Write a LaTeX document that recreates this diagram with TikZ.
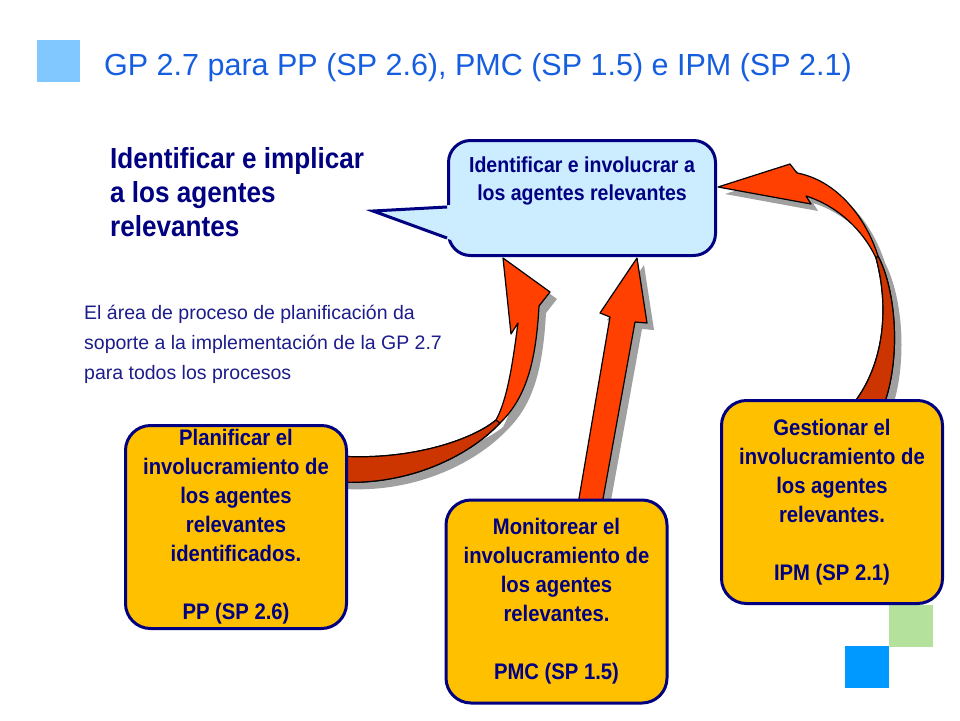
\documentclass[tikz,border=0pt]{standalone}
\usepackage{fontspec}
\setmainfont{Liberation Sans}
\newfontfamily\narrowfont[FakeStretch=0.9]{Liberation Sans}
\usetikzlibrary{positioning,shadows}
\definecolor{titleblue}{RGB}{22,94,224}
\definecolor{navy}{RGB}{0,0,128}
\definecolor{textnavy}{RGB}{28,28,140}
\definecolor{boxorange}{RGB}{255,192,0}
\definecolor{bubbleblue}{RGB}{204,236,255}
\definecolor{arrowred}{RGB}{255,64,0}
\definecolor{arrowdark}{RGB}{204,52,0}
\definecolor{shadowgray}{RGB}{160,160,160}
\definecolor{squareblue}{RGB}{128,200,255}
\definecolor{squaregreen}{RGB}{180,226,156}
\definecolor{squaredeep}{RGB}{0,153,255}
\tikzstyle{orangebox} = [draw=navy, fill=boxorange, line width=3pt, rounded corners=25pt,
    minimum width=221pt, minimum height=203pt, align=center, text=navy,
    font=\narrowfont\bfseries\fontsize{22.5}{29}\selectfont]
\tikzstyle{bigarrow} = [draw=black, fill=arrowred, line width=1.2pt, line join=round,
    drop shadow={shadow xshift=7pt, shadow yshift=-7pt, opacity=1, fill=shadowgray}]
\tikzstyle{underside} = [draw=black, fill=arrowdark, line width=1.2pt, line join=round]
\tikzstyle{calltext} = [inner sep=0pt, align=center, text=navy,
    font=\narrowfont\bfseries\fontsize{21.7}{28}\selectfont]

\begin{document}
\begin{tikzpicture}[x=1pt, y=-1pt]
    \fill[white] (0,0) rectangle (960,720);
    \useasboundingbox (0,0) rectangle (960,720);

    \fill[squareblue] (37,40) rectangle (80,82);
    \fill[squaregreen] (889,605) rectangle (933,647);
    \fill[squaredeep] (845,646) rectangle (889,688);

    \node[anchor=base west, inner sep=0pt, text=titleblue, font=\fontsize{30.5}{36}\selectfont]
        (title) at (104,75) {GP 2.7 para PP (SP 2.6), PMC (SP 1.5) e IPM (SP 2.1)};
    \node[anchor=north west, inner sep=0pt, align=left, text=navy,
        font=\narrowfont\bfseries\fontsize{29}{34}\selectfont]
        (lead) at (110,147) {Identificar e implicar\\ a los agentes\\ relevantes};
    \node[anchor=north west, inner sep=0pt, align=left, text=textnavy,
        font=\fontsize{19.5}{30}\selectfont]
        (note) at (84,305) {El área de proceso de planificación da\\
            soporte a la implementación de la GP 2.7\\ para todos los procesos};

    % arrows
    \coordinate (pptip) at (503,258);
    \coordinate (pmctip) at (637,258);
    \coordinate (ipmtip) at (718,187);
    \filldraw[bigarrow] (pptip) -- (550,292) -- (539,306)
        .. controls (536,360) and (527,397) .. (500,423)
        .. controls (470,455) and (410,486) .. (338,482)
        -- (338,456)
        .. controls (410,461) and (472,440) .. (496,420)
        .. controls (508,398) and (513,360) .. (518,323)
        -- (511,334) -- cycle;
    \filldraw[underside] (500,423)
        .. controls (470,455) and (410,486) .. (338,482)
        -- (338,456)
        .. controls (410,461) and (472,440) .. (496,420) -- cycle;
    \filldraw[bigarrow] (pmctip) -- (647,323) -- (635,322) -- (601,510)
        -- (577,510) -- (610,317) -- (600,313) -- cycle;
    \filldraw[bigarrow] (ipmtip) -- (790,164) -- (797,173)
        .. controls (835,180) and (865,215) .. (878,256)
        .. controls (896,290) and (902,360) .. (882,410)
        -- (848,410)
        .. controls (884,370) and (890,310) .. (876,258)
        .. controls (862,228) and (835,205) .. (806,196)
        -- (811,204) -- cycle;
    \filldraw[underside] (878,256)
        .. controls (896,290) and (902,360) .. (882,410)
        -- (848,410)
        .. controls (884,370) and (890,310) .. (876,258) -- cycle;

    % speech bubble
    \node[draw=navy, fill=bubbleblue, line width=3pt, rounded corners=22pt,
        minimum width=267pt, minimum height=115pt] (bubble) at (582,198) {};
    \coordinate (calltip) at (373,211);
    \fill[bubbleblue] ([xshift=4pt,yshift=-7pt]bubble.west) -- (calltip)
        -- ([xshift=4pt,yshift=-42pt]bubble.west) -- cycle;
    \draw[navy, line width=3pt] ([yshift=-9pt]bubble.west) -- (calltip)
        -- ([yshift=-40pt]bubble.west);
    \node[calltext, below=18pt of bubble.north] (callout)
        {Identificar e involucrar a\\ los agentes relevantes};

    % boxes
    \node[orangebox] (pp) at (236,527) {Planificar el\\ involucramiento de\\ los agentes\\
        relevantes\\ identificados.\\[29pt] PP (SP 2.6)};
    \node[orangebox] (pmc) at (556.5,601.5) {Monitorear el\\ involucramiento de\\
        los agentes\\ relevantes.\\[29pt] PMC (SP 1.5)};
    \node[orangebox] (ipm) at (832,502) {Gestionar el\\ involucramiento de\\
        los agentes\\ relevantes.\\[29pt] IPM (SP 2.1)};
\end{tikzpicture}
\end{document}
